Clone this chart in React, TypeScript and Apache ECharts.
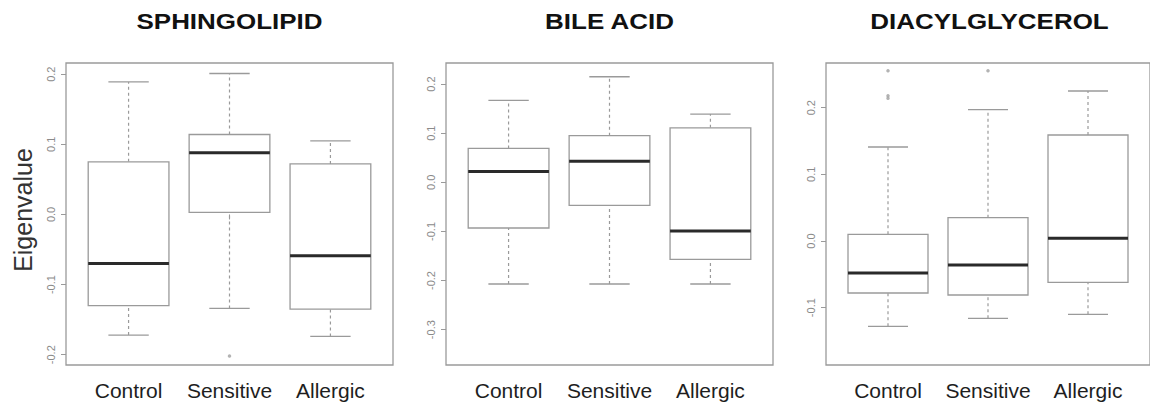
import React, { useEffect, useRef } from "react";
import * as echarts from "echarts";

const categories = ["Control", "Sensitive", "Allergic"];
const panelTitles = ["SPHINGOLIPID", "BILE ACID", "DIACYLGLYCEROL"];

// [min whisker, Q1, median, Q3, max whisker]
const sphingolipidStats = [
  [-0.172, -0.13, -0.07, 0.075, 0.189],
  [-0.134, 0.003, 0.088, 0.114, 0.201],
  [-0.174, -0.135, -0.059, 0.072, 0.105],
];
const sphingolipidOutliers = [[2, -0.202]];

const bileAcidStats = [
  [-0.207, -0.093, 0.022, 0.069, 0.167],
  [-0.207, -0.047, 0.043, 0.095, 0.215],
  [-0.207, -0.157, -0.099, 0.111, 0.139],
];
const bileAcidOutliers: number[][] = [];

const diacylglycerolStats = [
  [-0.128, -0.078, -0.048, 0.01, 0.141],
  [-0.116, -0.081, -0.036, 0.035, 0.197],
  [-0.11, -0.062, 0.004, 0.159, 0.225],
];
const diacylglycerolOutliers = [
  [1, 0.2555],
  [1, 0.218],
  [1, 0.214],
  [2, 0.2555],
];

const yTicks1 = [-0.2, -0.1, 0, 0.1, 0.2];
const yTicks2 = [-0.3, -0.2, -0.1, 0, 0.1, 0.2];
const yTicks3 = [-0.1, 0, 0.1, 0.2];

const yRanges = [
  [-0.2147, 0.216],
  [-0.372, 0.243],
  [-0.186, 0.267],
];

const panels = [
  { stats: sphingolipidStats, outliers: sphingolipidOutliers, ticks: yTicks1 },
  { stats: bileAcidStats, outliers: bileAcidOutliers, ticks: yTicks2 },
  { stats: diacylglycerolStats, outliers: diacylglycerolOutliers, ticks: yTicks3 },
];

const gridLefts = [66, 446, 826];
const gridTop = 63;
const gridW = 327;
const gridH = 302;

function buildOption() {
  const grid: any[] = [];
  const xAxis: any[] = [];
  const yAxis: any[] = [];
  const series: any[] = [];
  const graphic: any[] = [];

  panels.forEach((p, i) => {
    grid.push({
      left: gridLefts[i],
      top: gridTop,
      width: gridW,
      height: gridH,
      show: true,
      borderColor: "#9a9a9a",
      borderWidth: 1.3,
      backgroundColor: "transparent",
    });
    xAxis.push({
      type: "value",
      gridIndex: i,
      min: 0.38,
      max: 3.62,
      axisLine: { show: false },
      splitLine: { show: false },
      axisTick: {
        show: true,
        length: 5,
        customValues: [1, 2, 3],
        lineStyle: { color: "#9a9a9a", width: 1 },
      },
      axisLabel: {
        show: true,
        customValues: [1, 2, 3],
        formatter: (v: number) => categories[Math.round(v) - 1] || "",
        color: "#1e1e1e",
        fontSize: 21,
        fontFamily: "Liberation Sans, Arial, sans-serif",
        margin: 15,
      },
    });
    yAxis.push({
      type: "value",
      gridIndex: i,
      min: yRanges[i][0],
      max: yRanges[i][1],
      axisLine: { show: false },
      splitLine: { show: false },
      axisTick: {
        show: true,
        length: 5,
        customValues: p.ticks,
        lineStyle: { color: "#9a9a9a", width: 1 },
      },
      axisLabel: {
        show: true,
        customValues: p.ticks,
        rotate: 90,
        formatter: (v: number) => v.toFixed(1),
        color: "#8a8a8a",
        fontSize: 11,
        fontFamily: "Liberation Sans, Arial, sans-serif",
        margin: 10,
      },
    });
    series.push({
      type: "custom",
      xAxisIndex: i,
      yAxisIndex: i,
      clip: false,
      data: p.stats.map((s, k) => [k + 1, ...s]),
      renderItem: (params: any, api: any) => {
        const x = api.value(0);
        const lo = api.value(1);
        const q1 = api.value(2);
        const med = api.value(3);
        const q3 = api.value(4);
        const hi = api.value(5);
        const pc = (a: number, b: number) => api.coord([a, b]);
        const cLo = pc(x, lo);
        const cQ1 = pc(x, q1);
        const cMed = pc(x, med);
        const cQ3 = pc(x, q3);
        const cHi = pc(x, hi);
        const bl = pc(x - 0.4, 0)[0];
        const br = pc(x + 0.4, 0)[0];
        const capL = pc(x - 0.2, 0)[0];
        const capR = pc(x + 0.2, 0)[0];
        const dash = { stroke: "#9a9a9a", lineWidth: 1.2, lineDash: [3, 3] };
        const solid = { stroke: "#9a9a9a", lineWidth: 1.3 };
        return {
          type: "group",
          children: [
            { type: "line", shape: { x1: cQ3[0], y1: cQ3[1], x2: cHi[0], y2: cHi[1] }, style: dash },
            { type: "line", shape: { x1: cLo[0], y1: cLo[1], x2: cQ1[0], y2: cQ1[1] }, style: dash },
            { type: "line", shape: { x1: capL, y1: cHi[1], x2: capR, y2: cHi[1] }, style: solid },
            { type: "line", shape: { x1: capL, y1: cLo[1], x2: capR, y2: cLo[1] }, style: solid },
            {
              type: "rect",
              shape: { x: bl, y: cQ3[1], width: br - bl, height: cQ1[1] - cQ3[1] },
              style: { fill: "#ffffff", stroke: "#9a9a9a", lineWidth: 1.3 },
            },
            {
              type: "line",
              shape: { x1: bl, y1: cMed[1], x2: br, y2: cMed[1] },
              style: { stroke: "#2a2a2a", lineWidth: 3 },
            },
          ],
        };
      },
    });
    series.push({
      type: "scatter",
      xAxisIndex: i,
      yAxisIndex: i,
      data: p.outliers,
      symbol: "circle",
      symbolSize: 3.5,
      itemStyle: { color: "#a0a0a0" },
    });
    graphic.push({
      type: "text",
      x: gridLefts[i] + gridW / 2,
      y: 21,
      scaleX: 1.18,
      style: {
        text: panelTitles[i],
        textAlign: "center",
        textVerticalAlign: "middle",
        fill: "#111",
        font: "bold 22px 'Liberation Sans', Arial, sans-serif",
      },
    });
  });

  graphic.push({
    type: "text",
    x: 23,
    y: 210,
    rotation: Math.PI / 2,
    style: {
      text: "Eigenvalue",
      textAlign: "center",
      textVerticalAlign: "middle",
      fill: "#333",
      font: "25px 'Liberation Sans', Arial, sans-serif",
    },
  });

  return {
    animation: false,
    backgroundColor: "#ffffff",
    grid,
    xAxis,
    yAxis,
    series,
    graphic,
  };
}

export default function App() {
  const ref = useRef<HTMLDivElement>(null);
  useEffect(() => {
    document.body.style.margin = "0";
    if (!ref.current) return;
    const chart = echarts.init(ref.current, null, { renderer: "svg" });
    chart.setOption(buildOption() as any);
    return () => chart.dispose();
  }, []);
  return <div ref={ref} style={{ width: 1150, height: 404 }} />;
}
